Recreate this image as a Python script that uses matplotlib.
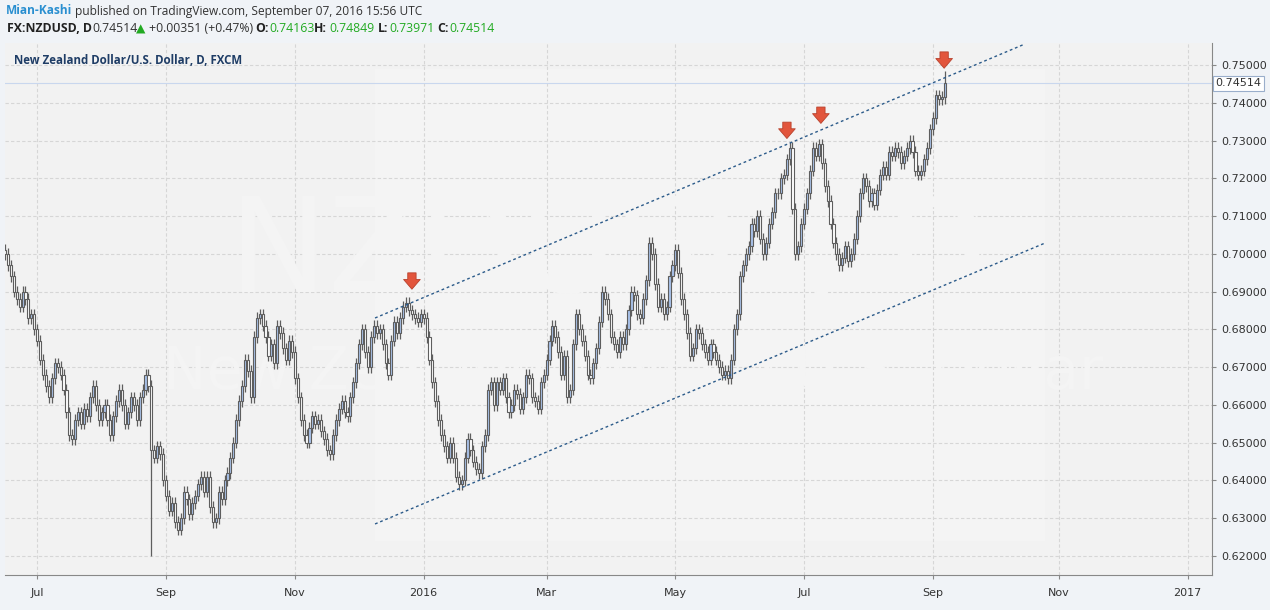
import numpy as np
import pandas as pd
import matplotlib
matplotlib.use("Agg")
import matplotlib.pyplot as plt
from matplotlib.patches import Rectangle

# ---------------- data ----------------
start_date = "2015-06-16"
first_open = 0.7010
closes_jun15 = [0.700,0.697,0.694,0.690,0.688,0.686,0.690,0.688,0.683,0.684,0.680]
closes_jul15 = [0.677,0.672,0.668,0.665,0.662,0.667,0.671,0.670,0.668,0.664,0.658,0.652,0.651,0.656,0.658,0.655,0.659,0.657,0.662,0.665,0.660,0.656,0.658]
closes_aug15 = [0.660,0.656,0.652,0.657,0.661,0.664,0.660,0.655,0.658,0.662,0.660,0.656,0.662,0.664,0.668,0.665,0.648,0.646,0.649,0.647,0.640]
closes_sep15 = [0.636,0.632,0.634,0.629,0.627,0.630,0.637,0.635,0.631,0.634,0.636,0.639,0.641,0.637,0.641,0.633,0.629,0.630,0.637,0.635,0.640,0.642]
closes_oct15 = [0.646,0.650,0.656,0.661,0.665,0.672,0.669,0.662,0.678,0.683,0.684,0.681,0.678,0.673,0.676,0.671,0.681,0.679,0.675,0.672,0.677,0.674]
closes_nov15 = [0.667,0.662,0.656,0.652,0.650,0.654,0.657,0.655,0.656,0.653,0.651,0.648,0.647,0.652,0.656,0.659,0.661,0.658,0.657,0.662,0.666]
closes_dec15 = [0.671,0.676,0.680,0.674,0.670,0.678,0.681,0.679,0.680,0.676,0.671,0.668,0.677,0.682,0.679,0.683,0.686,0.687,0.685,0.684,0.683,0.682,0.684]
closes_jan16 = [0.683,0.678,0.672,0.666,0.661,0.656,0.652,0.649,0.646,0.650,0.646,0.641,0.639,0.640,0.646,0.651,0.648,0.645,0.643,0.642,0.649]
closes_feb16 = [0.652,0.664,0.666,0.660,0.666,0.664,0.667,0.662,0.658,0.660,0.664,0.663,0.659,0.662,0.668,0.667,0.662,0.661,0.659,0.666,0.668]
closes_mar16 = [0.672,0.677,0.681,0.678,0.674,0.668,0.673,0.662,0.664,0.676,0.684,0.680,0.677,0.673,0.668,0.667,0.671,0.675,0.682,0.690,0.688,0.684,0.678]
closes_apr16 = [0.676,0.674,0.678,0.676,0.680,0.685,0.690,0.689,0.684,0.683,0.688,0.693,0.703,0.700,0.692,0.686,0.688,0.684,0.686,0.694,0.697]
closes_may16 = [0.701,0.695,0.688,0.684,0.679,0.673,0.675,0.680,0.679,0.676,0.674,0.672,0.676,0.674,0.672,0.670,0.668,0.669,0.667,0.672,0.680,0.684]
closes_jun16 = [0.694,0.697,0.700,0.702,0.708,0.706,0.710,0.704,0.700,0.703,0.708,0.711,0.716,0.716,0.720,0.721,0.725,0.728,0.712,0.700,0.702,0.708]
closes_jul16 = [0.712,0.716,0.722,0.728,0.726,0.729,0.724,0.718,0.714,0.708,0.703,0.700,0.697,0.699,0.702,0.698,0.700,0.704,0.710,0.716,0.720]
closes_aug16 = [0.718,0.714,0.716,0.713,0.717,0.721,0.723,0.721,0.727,0.726,0.728,0.727,0.724,0.726,0.728,0.730,0.727,0.722,0.721,0.722,0.725,0.728,0.733]
closes_sep16 = [0.736,0.742,0.741,0.74163,0.74514]
last_open = 0.74163
typical_wick = 0.0015
flash_crash_bar = 50
flash_crash_low = 0.6200
last_high = 0.74849
last_low = 0.73971

month_labels = ["Jul", "Sep", "Nov", "2016", "Mar", "May", "Jul", "Sep", "Nov", "2017"]
month_starts = ["2015-07-01", "2015-09-01", "2015-11-02", "2016-01-01", "2016-03-01",
                "2016-05-02", "2016-07-01", "2016-09-01", "2016-11-01", "2017-01-02"]
price_ticks = [0.62,0.63,0.64,0.65,0.66,0.67,0.68,0.69,0.70,0.71,0.72,0.73,0.74,0.75]
last_price = 0.74514

# ---------------- build ----------------
closes = np.array(closes_jun15+closes_jul15+closes_aug15+closes_sep15+closes_oct15+closes_nov15+
                  closes_dec15+closes_jan16+closes_feb16+closes_mar16+closes_apr16+closes_may16+
                  closes_jun16+closes_jul16+closes_aug16+closes_sep16)
n = len(closes)
opens = np.concatenate([[first_open], closes[:-1]])
opens[-1] = last_open
highs = np.maximum(opens, closes) + typical_wick
lows = np.minimum(opens, closes) - typical_wick
lows[flash_crash_bar] = flash_crash_low
highs[-1] = last_high
lows[-1] = last_low

dates = pd.bdate_range(start_date, "2017-02-28")
tick_pos = [dates.searchsorted(pd.Timestamp(d)) for d in month_starts]

fig = plt.figure(figsize=(12.7, 6.1), dpi=100)
fig.patch.set_facecolor("#f0f3f7")
ax = fig.add_axes([5/1270, 1-575/610, 1207/1270, 532/610])
ax.set_facecolor("#f2f2f2")
ax.set_xlim(0, 412.3)
ax.set_ylim(0.61497, 0.75582)

ax.add_patch(Rectangle((126.4, 0.6240), 229, 0.125, facecolor="#f4f4f4", edgecolor="none", zorder=0))

for t in price_ticks:
    ax.axhline(t, color="#d6d6d6", lw=0.8, ls=(0, (3, 2)), zorder=0.5)
for p in tick_pos:
    ax.axvline(p, color="#d6d6d6", lw=0.8, ls=(0, (3, 2)), zorder=0.5)

ax.text(0.5, 0.60, "NZDUSD, D", transform=ax.transAxes, fontsize=95, color="#f4f4f4",
        ha="center", va="center", zorder=0.6)
ax.text(0.52, 0.38, "New Zealand Dollar / U.S. Dollar", transform=ax.transAxes, fontsize=42,
        color="#f4f4f4", ha="center", va="center", zorder=0.6)

ax.axhline(last_price, color="#c9d7ee", lw=0.8, zorder=1)

w = 0.72
for i in range(n):
    o, c, h, l = opens[i], closes[i], highs[i], lows[i]
    up = c >= o
    ax.vlines(i, l, h, color="#5e5e5e", lw=0.9, zorder=2)
    ax.add_patch(Rectangle((i - w/2, min(o, c)), w, max(abs(c - o), 0.0002),
                           facecolor="#a9c2ea" if up else "#ffffff",
                           edgecolor="#5e5e5e", lw=0.8, zorder=3))

ax.plot([126.4, 348.4], [0.68301, 0.75556], color="#2c5b8a", lw=1.0, ls=(0, (2, 2)), zorder=4)
ax.plot([126.4, 355.3], [0.62848, 0.70287], color="#2c5b8a", lw=1.0, ls=(0, (2, 2)), zorder=4)

for xi, yt in [(139.0, 0.6899), (267.1, 0.7298), (278.7, 0.7338), (320.8, 0.7484)]:
    ax.annotate("", xy=(xi, yt), xytext=(xi, yt + 0.0058),
                arrowprops=dict(arrowstyle="simple,head_width=1.2,head_length=0.7,tail_width=0.6",
                                fc="#e2553c", ec="#b8412c", lw=0.6), zorder=5)

ax.yaxis.tick_right()
ax.set_yticks(price_ticks)
ax.set_yticklabels([f"{t:.5f}" for t in price_ticks])
ax.set_xticks(tick_pos)
ax.set_xticklabels(month_labels)
ax.tick_params(axis="both", labelsize=8, colors="#333333", length=3, color="#888888")
ax.tick_params(axis="x", pad=6)
for s in ["top", "left"]:
    ax.spines[s].set_visible(False)
for s in ["right", "bottom"]:
    ax.spines[s].set_color("#888888")

ax.text(1.003, last_price, f"{last_price:.5f}", transform=ax.get_yaxis_transform(), fontsize=8,
        va="center", ha="left", color="#333333",
        bbox=dict(boxstyle="square,pad=0.25", fc="white", ec="#9aaecb", lw=0.8), zorder=6)

ax.text(9/1207, 1-17/532, "New Zealand Dollar/U.S. Dollar, D, FXCM", transform=ax.transAxes,
        fontsize=8.3, color="#1f3d66", fontweight="bold", fontfamily="Open Sans", va="center")

fig.text(6/1270, 1-11/610, "Mian-Kashi", color="#2a8fd0", fontsize=8.6, fontweight="bold", va="center",
         fontfamily="Open Sans")
fig.text(75/1270, 1-11/610, "published on TradingView.com, September 07, 2016 15:56 UTC",
         color="#333333", fontsize=8.6, va="center", fontfamily="Open Sans")
y2 = 1 - 29/610
parts = [("FX:NZDUSD, D", "#222222", "bold", 7, "Open Sans"), ("0.74514", "#333333", "normal", 92, "Open Sans"),
         ("\u25B2", "#22aa22", "normal", 136, "DejaVu Sans"), ("+0.00351 (+0.47%)", "#333333", "normal", 149, "Open Sans"),
         ("O:", "#222222", "bold", 255, "Open Sans"), ("0.74163", "#22aa22", "normal", 269, "Open Sans"),
         ("H:", "#222222", "bold", 314, "Open Sans"), ("0.74849", "#22aa22", "normal", 329, "Open Sans"),
         ("L:", "#222222", "bold", 378, "Open Sans"), ("0.73971", "#22aa22", "normal", 389, "Open Sans"),
         ("C:", "#222222", "bold", 437, "Open Sans"), ("0.74514", "#22aa22", "normal", 449, "Open Sans")]
for txt, col, wt, px, fam in parts:
    fig.text(px/1270, y2, txt, color=col, fontsize=8.8, fontweight=wt, va="center", fontfamily=fam)

fig.savefig("out.png", dpi=100, facecolor=fig.get_facecolor())
